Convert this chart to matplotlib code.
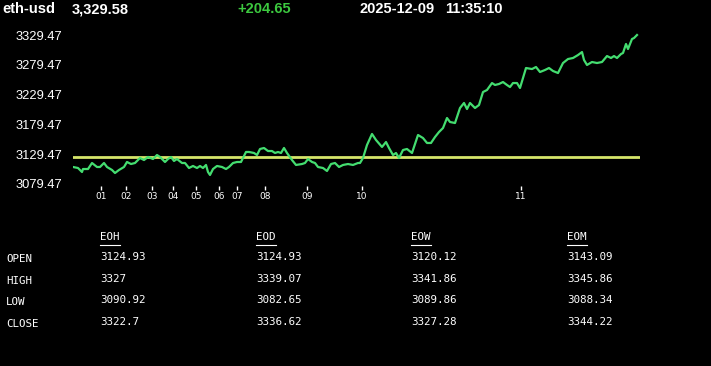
import matplotlib
matplotlib.use('Agg')
import matplotlib.pyplot as plt
from matplotlib.lines import Line2D

# header
symbol = 'eth-usd'
last_price = '3,329.58'
change = '+204.65'
date_str = '2025-12-09'
time_str = '11:35:10'

# price trace (t = sample position along the session)
t = [0, 5, 9, 10, 15, 19, 24, 27, 31, 34, 39, 42, 46, 51, 54, 58, 62, 67, 71, 75,
     80, 84, 87, 92, 95, 98, 101, 104, 109, 112, 116, 120, 124, 127, 130, 133, 135, 137,
     140, 144, 149, 153, 156, 160, 164, 168, 173, 176, 181, 184, 187, 191, 195, 199, 202,
     205, 208, 211, 214, 219, 223, 229, 232, 235, 239, 242, 245, 250, 254, 258, 262, 266,
     270, 275, 280, 285,
     287, 290, 294, 299, 303, 309, 313, 316, 320, 323, 326, 330, 334, 339, 345, 350, 354,
     358, 362, 366, 370, 374, 377, 382, 387, 391, 394, 397, 402, 406, 410, 414, 419, 422,
     426, 430, 434, 437, 440, 444, 447, 453, 459, 463, 467, 472, 476, 480, 485, 490, 495,
     500, 505, 509, 511, 514, 519, 524, 529, 534, 538, 541, 544, 548, 550, 553, 555, 559,
     561, 564]
price = [3108.0, 3106.3, 3099.6, 3104.6, 3104.6, 3114.7, 3108.0, 3108.0, 3114.7, 3108.0,
         3103.0, 3097.9, 3103.0, 3108.0, 3116.4, 3113.0, 3114.7, 3123.1, 3119.7, 3124.8,
         3121.4, 3128.1, 3124.8, 3116.4, 3121.4, 3124.8, 3118.1, 3121.4, 3114.7, 3114.7,
         3106.3, 3109.7, 3106.3, 3109.7, 3106.3, 3111.4, 3099.6, 3094.6, 3104.6, 3109.7,
         3108.0, 3104.6, 3108.0, 3114.7, 3116.4, 3116.4, 3133.2, 3133.2, 3131.5, 3128.1,
         3138.2, 3139.9, 3134.8, 3134.8, 3131.5, 3133.2, 3131.5, 3139.9, 3131.5, 3119.7,
         3111.4, 3113.0, 3114.7, 3121.4, 3116.4, 3114.7, 3108.0, 3106.3, 3101.3, 3113.0,
         3114.7, 3108.0, 3111.4, 3113.0, 3111.4, 3114.7,
         3114.7, 3123.1, 3144.9, 3163.4, 3153.3, 3141.6, 3149.9, 3139.9, 3128.1, 3131.5,
         3123.1, 3136.5, 3138.2, 3131.5, 3161.7, 3156.6, 3148.3, 3148.3, 3158.3, 3166.7,
         3173.4, 3190.2, 3183.5, 3181.8, 3207.0, 3215.4, 3205.3, 3215.4, 3207.0, 3212.0,
         3233.8, 3237.2, 3248.9, 3245.6, 3247.3, 3250.6, 3245.6, 3242.2, 3248.9, 3248.9,
         3240.6, 3274.1, 3272.4, 3275.8, 3267.4, 3270.8, 3274.1, 3269.1, 3265.7, 3282.5,
         3289.2, 3290.9, 3295.9, 3300.9, 3287.6, 3279.2, 3284.2, 3282.5, 3284.2, 3294.2,
         3290.9, 3294.2, 3290.9, 3297.6, 3299.3, 3314.4, 3306.0, 3322.8, 3324.4, 3329.5]
open_price = 3124.93

hour_pos = [28, 53, 79, 100, 123, 146, 164, 192, 234, 289, 448]
hour_labels = ['01', '02', '03', '04', '05', '06', '07', '08', '09', '10', '11']
ytick_vals = [3079.47, 3129.47, 3179.47, 3229.47, 3279.47, 3329.47]

# summary table
columns = ['EOH', 'EOD', 'EOW', 'EOM']
rows = ['OPEN', 'HIGH', 'LOW', 'CLOSE']
table = [['3124.93', '3124.93', '3120.12', '3143.09'],
         ['3327', '3339.07', '3341.86', '3345.86'],
         ['3090.92', '3082.65', '3089.86', '3088.34'],
         ['3322.7', '3336.62', '3327.28', '3344.22']]

W, H = 711, 366
fig = plt.figure(figsize=(W / 100, H / 100), dpi=100, facecolor='black')

def fx(px):
    return px / W

def fy(py):
    return 1 - py / H

head = dict(color='white', fontsize=10.5, fontweight='bold', family='Liberation Sans', va='center')
fig.text(fx(2), fy(9), symbol, **head)
fig.text(fx(72), fy(9), last_price, **head)
fig.text(fx(237), fy(9), change, **{**head, 'color': '#3cc83f'})
fig.text(fx(359), fy(9), date_str, **head)
fig.text(fx(445), fy(9), time_str, **head)

ax = fig.add_axes([fx(73), fy(186), fx(567), (186 - 30) / H])
ax.set_facecolor('black')
ax.plot(t, price, color='#44dd70', lw=1.6, zorder=3)
ax.axhline(open_price, color='#d6e66a', lw=2, zorder=2)
ax.set_xlim(0, 567)
ax.set_ylim(3076.1, 3337.9)
for s in ax.spines.values():
    s.set_visible(False)
ax.set_yticks(ytick_vals)
ax.set_yticklabels(['%.2f' % v for v in ytick_vals])
ax.tick_params(axis='y', length=0, pad=7.5, labelcolor='white', labelsize=9.3)
for lab in ax.get_yticklabels():
    lab.set_family('Liberation Sans')
ax.set_xticks(hour_pos)
ax.set_xticklabels(hour_labels)
ax.tick_params(axis='x', length=3, width=1, color='white', pad=1.5, labelcolor='white', labelsize=6.5)

mono = dict(color='white', fontsize=7.8, family='DejaVu Sans Mono', va='center')
col_x = [100, 256, 411, 567]
row_y = [259, 281, 302, 324]
for cx, name in zip(col_x, columns):
    fig.text(fx(cx), fy(237), name, **mono)
    fig.add_artist(Line2D([fx(cx), fx(cx + 20)], [fy(244.5), fy(244.5)], color='white', lw=0.8))
for ry, name, vals in zip(row_y, rows, table):
    fig.text(fx(6), fy(ry), name, **mono)
    for cx, v in zip(col_x, vals):
        fig.text(fx(cx), fy(ry - 2), v, **mono)

fig.savefig('out.png', dpi=100, facecolor='black')
